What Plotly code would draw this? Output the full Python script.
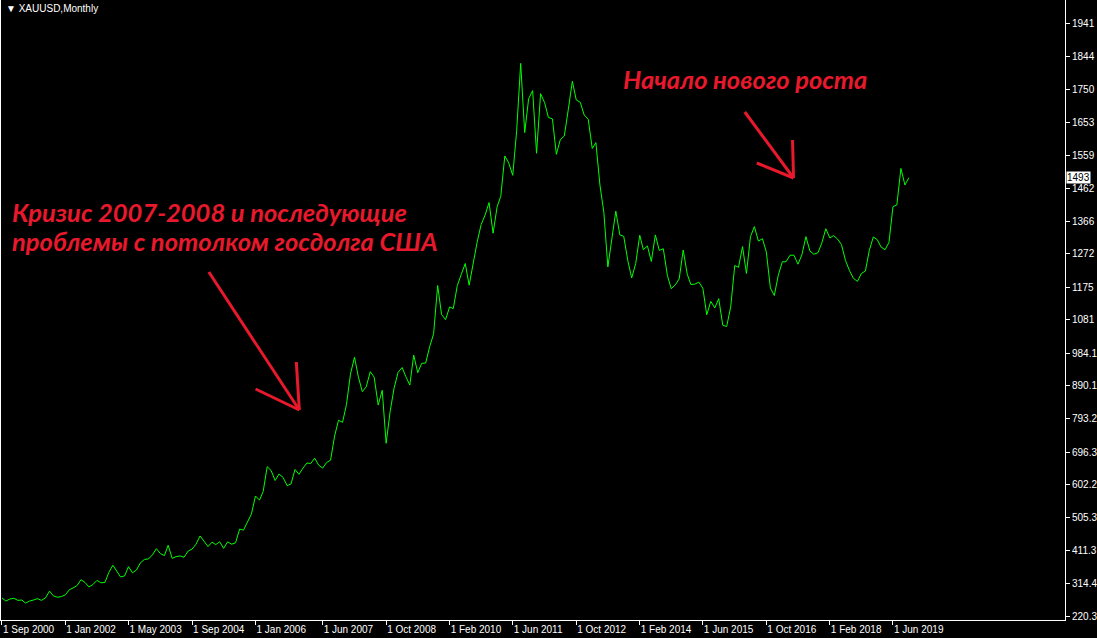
import pandas as pd
import plotly.graph_objects as go

# ---------------- data ----------------
start_month = "2000-09-01"
n_months = 230
months = pd.date_range(start_month, periods=n_months, freq="MS")

close_2000 = [273, 264, 270, 272]
close_2001 = [266, 267, 258, 264, 267, 271, 266, 273, 293, 279, 275, 277]
close_2002 = [282, 297, 302, 309, 326, 318, 305, 312, 324, 317, 318, 347]
close_2003 = [368, 348, 334, 337, 364, 346, 354, 375, 385, 386, 398, 416]
close_2004 = [402, 396, 426, 388, 393, 395, 391, 409, 415, 429, 453, 438]
close_2005 = [422, 435, 428, 436, 417, 436, 429, 433, 473, 470, 495, 517]
close_2006 = [569, 557, 582, 654, 643, 614, 633, 623, 599, 604, 646, 632]
close_2007 = [650, 665, 663, 679, 659, 650, 666, 673, 743, 789, 783, 834]
close_2008 = [923, 972, 916, 872, 886, 930, 914, 833, 876, 722, 815, 882]
close_2009 = [928, 942, 916, 891, 978, 927, 954, 955, 1003, 1040, 1180, 1096]
close_2010 = [1081, 1118, 1113, 1180, 1212, 1244, 1181, 1248, 1307, 1357, 1385, 1421]
close_2011 = [1332, 1409, 1439, 1556, 1536, 1500, 1628, 1825, 1624, 1722, 1746, 1564]
close_2012 = [1737, 1711, 1668, 1664, 1561, 1604, 1614, 1691, 1773, 1719, 1712, 1675]
close_2013 = [1663, 1578, 1595, 1472, 1393, 1234, 1313, 1396, 1327, 1323, 1253, 1202]
close_2014 = [1244, 1326, 1284, 1295, 1250, 1327, 1282, 1287, 1210, 1171, 1182, 1199]
close_2015 = [1283, 1213, 1183, 1184, 1190, 1172, 1095, 1134, 1115, 1142, 1065, 1061]
close_2016 = [1118, 1238, 1233, 1293, 1215, 1322, 1351, 1309, 1316, 1277, 1173, 1151]
close_2017 = [1211, 1249, 1249, 1268, 1268, 1242, 1269, 1322, 1280, 1271, 1275, 1303]
close_2018 = [1345, 1318, 1325, 1315, 1299, 1253, 1224, 1201, 1192, 1215, 1222, 1282]
close_2019 = [1321, 1313, 1292, 1284, 1305, 1409, 1414, 1520, 1472, 1493]

close = (close_2000 + close_2001 + close_2002 + close_2003 + close_2004 + close_2005
         + close_2006 + close_2007 + close_2008 + close_2009 + close_2010 + close_2011
         + close_2012 + close_2013 + close_2014 + close_2015 + close_2016 + close_2017
         + close_2018 + close_2019)

last_price = 1493

x_tick_dates = ["2000-09-01", "2002-01-01", "2003-05-01", "2004-09-01", "2006-01-01",
                "2007-06-01", "2008-10-01", "2010-02-01", "2011-06-01", "2012-10-01",
                "2014-02-01", "2015-06-01", "2016-10-01", "2018-02-01", "2019-06-01"]
x_tick_labels = ["1 Sep 2000", "1 Jan 2002", "1 May 2003", "1 Sep 2004", "1 Jan 2006",
                 "1 Jun 2007", "1 Oct 2008", "1 Feb 2010", "1 Jun 2011", "1 Oct 2012",
                 "1 Feb 2014", "1 Jun 2015", "1 Oct 2016", "1 Feb 2018", "1 Jun 2019"]

y_tick_values = [220.3, 314.4, 411.3, 505.3, 602.2, 696.3, 793.2, 890.1, 984.1, 1081,
                 1175, 1272, 1366, 1462, 1559, 1653, 1750, 1844, 1941]
y_tick_labels = ["220.3", "314.4", "411.3", "505.3", "602.2", "696.3", "793.2", "890.1",
                 "984.1", "1081", "1175", "1272", "1366", "1462", "1559", "1653", "1750",
                 "1844", "1941"]

title_text = "XAUUSD,Monthly"
note_crisis_1 = "Кризис 2007-2008 и последующие"
note_crisis_2 = "проблемы с потолком госдолга США"
note_growth = "Начало нового роста"

# ---------------- layout geometry ----------------
W, H = 1097, 638
PL, PR, PT, PB = 0, 27, 0, 18
PW, PH = W - PL - PR, H - PT - PB

days_per_px = (pd.Timestamp("2019-06-01") - pd.Timestamp("2000-09-01")).days / 896.0
x0 = pd.Timestamp("2000-09-01") - pd.Timedelta(days=1 * days_per_px)
x1 = x0 + pd.Timedelta(days=PW * days_per_px)
y_range = [209, 2009]

RED = "#e8192c"
NOTE_FONT = dict(family="Lato", size=25.5, color=RED, weight="bold", style="italic")


def px(x):
    return (x - PL) / PW


def py(y):
    return 1 - (y - PT) / PH


fig = go.Figure()
fig.add_trace(go.Scatter(
    x=months, y=close, mode="lines",
    line=dict(color="#00ff00", width=1),
    hoverinfo="skip",
))

shapes = []
arrow_segments = [
    # crisis arrow
    ((209, 272), (300, 410)),
    ((256, 389), (300, 410)),
    ((297, 362), (300, 410)),
    # growth arrow
    ((748, 112), (797, 178)),
    ((760, 163), (797, 178)),
    ((796, 140), (797, 178)),
]
for (ax, ay), (bx, by) in arrow_segments:
    shapes.append(dict(type="line", xref="paper", yref="paper",
                       x0=px(ax), y0=py(ay), x1=px(bx), y1=py(by),
                       line=dict(color=RED, width=3)))

annotations = [
    dict(text=note_crisis_1, xref="paper", yref="paper", x=px(9), y=py(212),
         xanchor="left", yanchor="middle", showarrow=False, font=NOTE_FONT),
    dict(text=note_crisis_2, xref="paper", yref="paper", x=px(9), y=py(241),
         xanchor="left", yanchor="middle", showarrow=False, font=NOTE_FONT),
    dict(text=note_growth, xref="paper", yref="paper", x=px(623), y=py(79),
         xanchor="left", yanchor="middle", showarrow=False, font=NOTE_FONT),
    dict(text="▼ " + title_text, xref="paper", yref="paper", x=px(3), y=py(8),
         xanchor="left", yanchor="middle", showarrow=False,
         font=dict(family="Liberation Sans", size=10, color="white")),
    dict(text=str(last_price), xref="paper", yref="y", x=1, y=last_price,
         xanchor="left", yanchor="middle", xshift=1, showarrow=False,
         bgcolor="white", borderpad=0,
         font=dict(family="Liberation Sans", size=10, color="black")),
]

fig.update_layout(
    width=W, height=H,
    margin=dict(l=PL, r=PR, t=PT, b=PB, pad=0),
    paper_bgcolor="black", plot_bgcolor="black",
    showlegend=False,
    shapes=shapes,
    annotations=annotations,
    xaxis=dict(
        type="date",
        range=[x0.isoformat(), x1.isoformat()],
        tickvals=x_tick_dates, ticktext=x_tick_labels,
        ticks="outside", ticklen=4, tickcolor="white",
        ticklabelposition="outside right",
        showline=True, linecolor="white", linewidth=1,
        showgrid=False, zeroline=False,
        tickfont=dict(family="Liberation Sans", size=10, color="white"),
        fixedrange=True,
    ),
    yaxis=dict(
        side="right",
        range=y_range,
        tickvals=y_tick_values, ticktext=y_tick_labels,
        ticks="outside", ticklen=4, tickcolor="white",
        showline=True, linecolor="white", linewidth=1, mirror=True,
        showgrid=False, zeroline=False,
        tickfont=dict(family="Liberation Sans", size=10, color="white"),
        fixedrange=True,
    ),
)

fig.write_html(
    "out.html",
    include_plotlyjs=True,
    config={"displayModeBar": False},
    post_script="document.body.style.margin='0';document.body.style.background='black';",
)
